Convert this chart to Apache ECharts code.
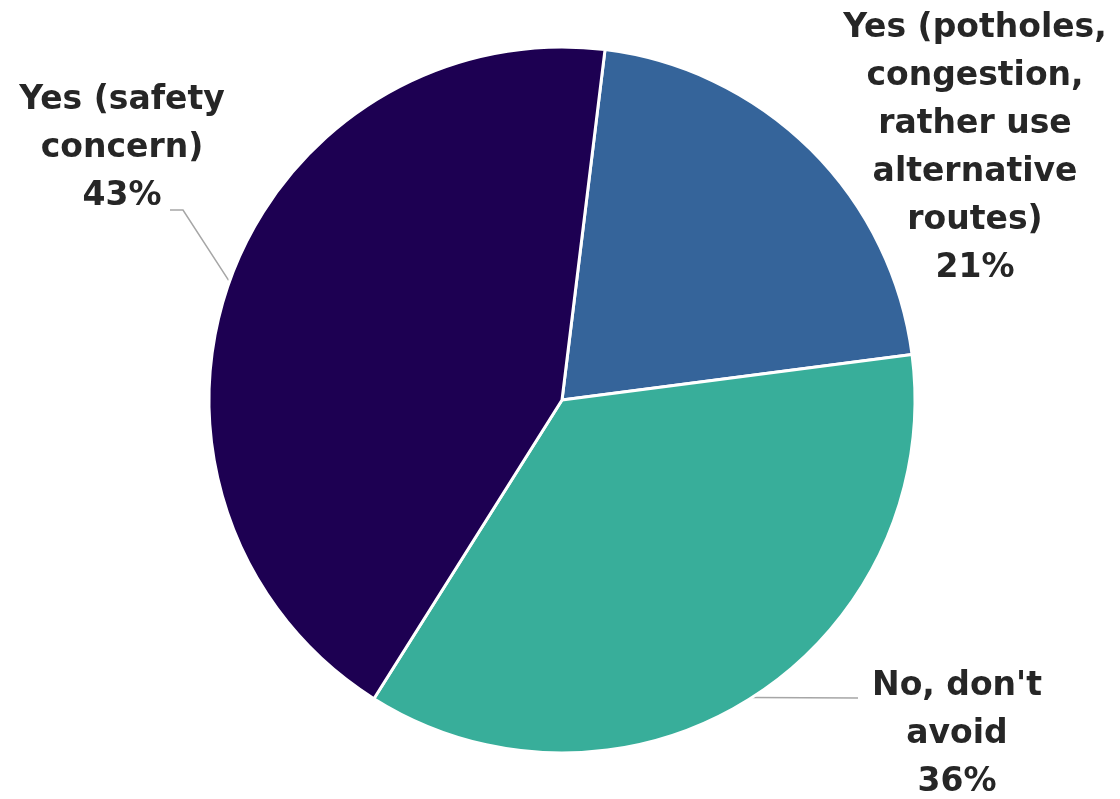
<!DOCTYPE html>
<html>
<head>
<meta charset="utf-8">
<script src="https://cdn.jsdelivr.net/npm/echarts@6/dist/echarts.min.js"></script>
<style>
html,body{margin:0;padding:0;background:#fff;}
#chart{width:1120px;height:799px;}
</style>
</head>
<body>
<div id="chart"></div>
<script>
const categories = [
  'Yes (potholes,\ncongestion,\nrather use\nalternative\nroutes)',
  "No, don't\navoid",
  'Yes (safety\nconcern)'
];
const values = [21, 36, 43];
const colors = ['#35649A', '#38AE9A', '#1D0052'];

// label placement (layout only)
const labelPos = [
  {x: 975, y: 148},
  {x: 957, y: 734},
  {x: 122, y: 148}
];

const chart = echarts.init(document.getElementById('chart'));
chart.setOption({
  animation: false,
  series: [{
    type: 'pie',
    center: [562, 400],
    radius: 353,
    startAngle: 83,
    clockwise: true,
    percentPrecision: 0,
    itemStyle: {borderColor: '#fff', borderWidth: 3},
    label: {
      show: true,
      position: 'outside',
      alignTo: 'none',
      overflow: 'none',
      formatter: '{b}\n{d}%',
      fontFamily: 'DejaVu Sans',
      fontWeight: 'bold',
      fontSize: 33,
      lineHeight: 48,
      color: '#262626',
      align: 'center'
    },
    labelLine: {show: true, lineStyle: {color: '#A6A6A6', width: 1.5}},
    data: categories.map((c, i) => ({
      name: c, value: values[i],
      itemStyle: {color: colors[i]},
      labelLine: {show: i !== 0}
    })),
    labelLayout: function (params) {
      const i = params.dataIndex;
      const p = labelPos[i];
      const res = {x: p.x, y: p.y, align: 'center', verticalAlign: 'middle', width: 400};
      const start = params.labelLinePoints ? params.labelLinePoints[0] : null;
      if (start) {
        if (i === 1) {
          res.labelLinePoints = [start, [p.x - 99, p.y - 36]];
        } else if (i === 2) {
          res.labelLinePoints = [start, [p.x + 61, p.y + 62], [p.x + 48, p.y + 62]];
        }
      }
      return res;
    }
  }]
});
</script>
</body>
</html>
